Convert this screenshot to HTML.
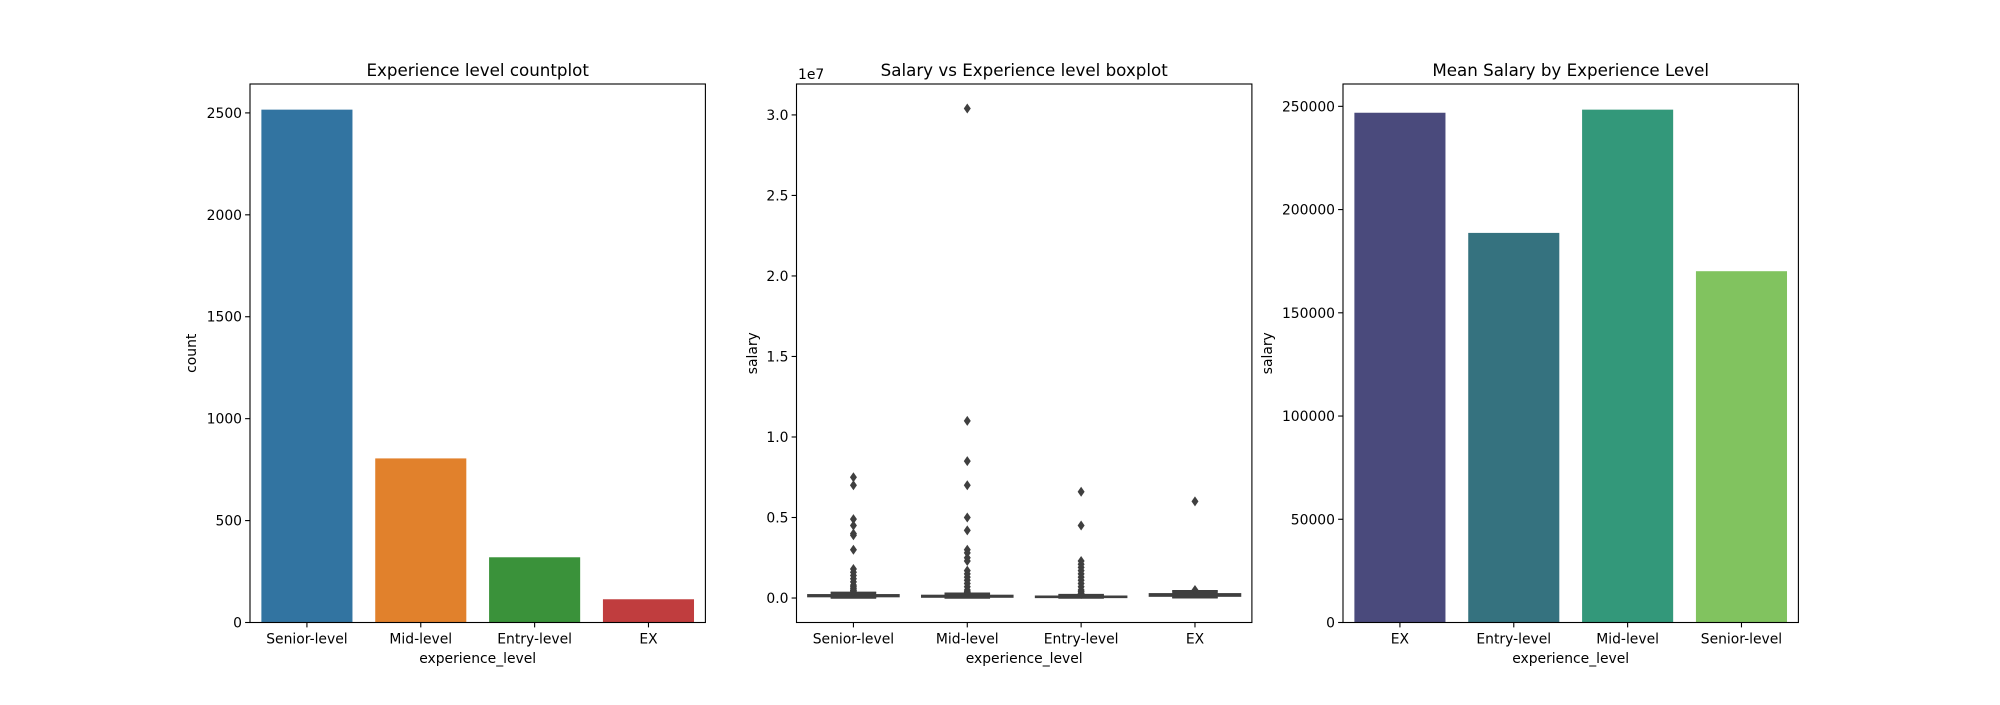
<!DOCTYPE html>
<html><head><meta charset="utf-8"><style>
body{margin:0;background:#fff}
svg text{font-family:"DejaVu Sans","Liberation Sans",sans-serif;fill:#000}
</style></head><body>
<svg id="fig" width="2000" height="700" xmlns="http://www.w3.org/2000/svg"></svg>
<script>
const countCats=["Senior-level","Mid-level","Entry-level","EX"];
const countVals=[2516,805,320,114];
const countColors=["#3274a1","#e1812c","#3a923a","#c03d3e"];
const countTicks=[0,500,1000,1500,2000,2500];

const boxCats=["Senior-level","Mid-level","Entry-level","EX"];
const boxQ1=[90000,60000,40000,120000];
const boxMed=[140000,100000,70000,190000];
const boxQ3=[200000,160000,110000,260000];
const boxLo=[0,4000,4000,15000];
const boxHi=[350000,300000,210000,450000];
const outSenior=[7.5e6,7.0e6,4.9e6,4.5e6,4.0e6,3.9e6,3.0e6,1.8e6,1.6e6,1.4e6,1.2e6,1.0e6,0.8e6,0.7e6,0.6e6,0.5e6,0.45e6,0.4e6];
const outMid=[30.4e6,11.0e6,8.5e6,7.0e6,5.0e6,4.2e6,3.0e6,2.8e6,2.5e6,2.3e6,1.7e6,1.5e6,1.3e6,1.1e6,0.9e6,0.7e6,0.5e6,0.4e6,0.35e6];
const outEntry=[6.6e6,4.5e6,2.3e6,2.1e6,1.9e6,1.7e6,1.5e6,1.3e6,1.1e6,0.9e6,0.7e6,0.5e6,0.4e6,0.3e6,0.25e6];
const outEX=[6.0e6,0.5e6];
const boxTicks=[0,0.5,1.0,1.5,2.0,2.5,3.0];

const meanCats=["EX","Entry-level","Mid-level","Senior-level"];
const meanVals=[246900,188700,248400,170150];
const meanColors=["#4a4a7c","#35727f","#33987a","#81c35f"];
const meanTicks=[0,50000,100000,150000,200000,250000];

const NS="http://www.w3.org/2000/svg";
const svg=document.getElementById('fig');
function el(tag,attrs,parent){const e=document.createElementNS(NS,tag);for(const k in attrs)e.setAttribute(k,attrs[k]);(parent||svg).appendChild(e);return e;}
const TOP=84,BOT=622.5,H=BOT-TOP;

function panel(x0,x1,ymin,ymax,cats,title,ylabel,tickVals,tickFmt,name){
  const g=el('g',{});
  
  
  const W=x1-x0;
  const xs=i=>x0+(i+0.5)/cats.length*W;
  const ys=v=>BOT-(v-ymin)/(ymax-ymin)*H;
  return {g,xs,ys,W,finish(){
    const f=el('rect',{x:x0,y:TOP,width:W,height:H,fill:'none',stroke:'#000','stroke-width':1.1},g);
    
    cats.forEach((c,i)=>{
      el('line',{x1:xs(i),x2:xs(i),y1:BOT,y2:BOT+4.9,stroke:'#000','stroke-width':1.1},g);
      const t=el('text',{x:xs(i),y:BOT+21,'text-anchor':'middle','font-size':13.9},g);t.textContent=c;
      
    });
    tickVals.forEach(v=>{
      el('line',{x1:x0-4.9,x2:x0,y1:ys(v),y2:ys(v),stroke:'#000','stroke-width':1.1},g);
      const t=el('text',{x:x0-8,y:ys(v)+5,'text-anchor':'end','font-size':13.9},g);t.textContent=tickFmt(v);
      
    });
    const xl=el('text',{x:x0+W/2,y:663,'text-anchor':'middle','font-size':13.9},g);xl.textContent='experience_level';
    
    const ti=el('text',{x:x0+W/2,y:76,'text-anchor':'middle','font-size':16.7},g);ti.textContent=title;
    
    const lx=ylabel[1];
    const yl=el('text',{x:lx,y:TOP+H/2,'text-anchor':'middle','font-size':13.9,transform:`rotate(-90 ${lx} ${TOP+H/2})`},g);yl.textContent=ylabel[0];
    
  }};
}

// Panel 1
const p1=panel(250,705.4,0,Math.max(...countVals)*1.05,countCats,'Experience level countplot',['count',196],countTicks,v=>String(v),'countplot');
countVals.forEach((v,i)=>{
  const bw=0.8*p1.W/countCats.length;
  const r=el('rect',{x:p1.xs(i)-bw/2,y:p1.ys(v),width:bw,height:BOT-p1.ys(v),fill:countColors[i]},p1.g);
  
  
});
p1.finish();

// Panel 2
const outs=[outSenior,outMid,outEntry,outEX];
const allMax=Math.max(...outs.flat());const allMin=0;
const pad=(allMax-allMin)*0.05;
const p2=panel(796.5,1251.9,allMin-pad,allMax+pad,boxCats,'Salary vs Experience level boxplot',['salary',757],boxTicks.map(v=>v*1e7),v=>(v/1e7).toFixed(1),'boxplot');
const t1e7=el('text',{x:798,y:79,'font-size':13.9},p2.g);t1e7.textContent='1e7';


const C='#3f3f3f';
boxCats.forEach((c,i)=>{
  const cx=p2.xs(i),bw=0.8*p2.W/boxCats.length;
  const g=el('g',{},p2.g);
  
  
  el('line',{x1:cx,x2:cx,y1:p2.ys(boxLo[i]),y2:p2.ys(boxQ1[i]),stroke:C,'stroke-width':1.5},g);
  el('line',{x1:cx,x2:cx,y1:p2.ys(boxQ3[i]),y2:p2.ys(boxHi[i]),stroke:C,'stroke-width':1.5},g);
  el('line',{x1:cx-bw/4,x2:cx+bw/4,y1:p2.ys(boxLo[i]),y2:p2.ys(boxLo[i]),stroke:C,'stroke-width':1.5},g);
  el('line',{x1:cx-bw/4,x2:cx+bw/4,y1:p2.ys(boxHi[i]),y2:p2.ys(boxHi[i]),stroke:C,'stroke-width':1.5},g);
  el('rect',{x:cx-bw/2,y:p2.ys(boxQ3[i]),width:bw,height:Math.max(0.5,p2.ys(boxQ1[i])-p2.ys(boxQ3[i])),fill:C,stroke:C,'stroke-width':1.5},g);
  el('rect',{x:cx-bw/4,y:p2.ys(boxHi[i]),width:bw/2,height:p2.ys(boxLo[i])-p2.ys(boxHi[i]),fill:C},g);
  outs[i].forEach(v=>{
    const y=p2.ys(v);
    const d=el('polygon',{points:`${cx},${y-5} ${cx+3.5},${y} ${cx},${y+5} ${cx-3.5},${y}`,fill:C},g);
    
    
  });
});
p2.finish();

// Panel 3
const p3=panel(1343,1798.4,0,Math.max(...meanVals)*1.05,meanCats,'Mean Salary by Experience Level',['salary',1272],meanTicks,v=>String(v),'mean-salary-barplot');
meanVals.forEach((v,i)=>{
  const bw=0.8*p3.W/meanCats.length;
  const r=el('rect',{x:p3.xs(i)-bw/2,y:p3.ys(v),width:bw,height:BOT-p3.ys(v),fill:meanColors[i]},p3.g);
  
  
});
p3.finish();
</script>
</body></html>
